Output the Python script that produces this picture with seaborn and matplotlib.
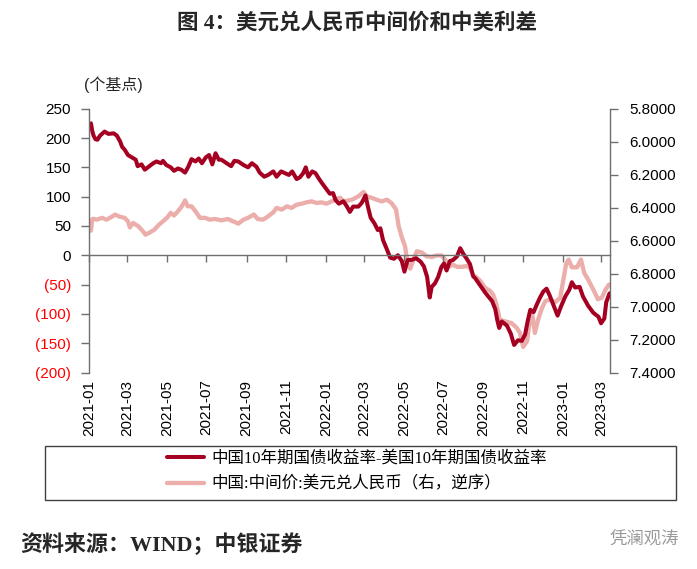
import matplotlib
matplotlib.use('Agg')
import matplotlib.pyplot as plt
import seaborn as sns
import pandas as pd
from matplotlib.patches import Rectangle

# ---------------- data ----------------
spread_dates = [
    "2021-01-04", "2021-01-06", "2021-01-08", "2021-01-11", "2021-01-14", "2021-01-18",
    "2021-01-25", "2021-01-31", "2021-02-08", "2021-02-13", "2021-02-18", "2021-02-21",
    "2021-02-25", "2021-03-02", "2021-03-08", "2021-03-14", "2021-03-17", "2021-03-23",
    "2021-03-28", "2021-04-03", "2021-04-10", "2021-04-15", "2021-04-22", "2021-04-25",
    "2021-04-30", "2021-05-07", "2021-05-12", "2021-05-18", "2021-05-23", "2021-05-29",
    "2021-06-03", "2021-06-08", "2021-06-14", "2021-06-19", "2021-06-24", "2021-06-30",
    "2021-07-05", "2021-07-10", "2021-07-15", "2021-07-20", "2021-07-24", "2021-08-01",
    "2021-08-08", "2021-08-13", "2021-08-19", "2021-08-27", "2021-09-03", "2021-09-09",
    "2021-09-16", "2021-09-21", "2021-09-28", "2021-10-04", "2021-10-12", "2021-10-17",
    "2021-10-24", "2021-10-30", "2021-11-05", "2021-11-10", "2021-11-17", "2021-11-22",
    "2021-11-27", "2021-12-01", "2021-12-05", "2021-12-11", "2021-12-16", "2021-12-21",
    "2021-12-26", "2022-01-01", "2022-01-07", "2022-01-12", "2022-01-16", "2022-01-21",
    "2022-01-28", "2022-02-02", "2022-02-07", "2022-02-12", "2022-02-20", "2022-02-25",
    "2022-03-03", "2022-03-07", "2022-03-11", "2022-03-17", "2022-03-22", "2022-03-26",
    "2022-03-30", "2022-04-05", "2022-04-10", "2022-04-16", "2022-04-22", "2022-04-28",
    "2022-05-02", "2022-05-07", "2022-05-13", "2022-05-20", "2022-05-27", "2022-06-01",
    "2022-06-06", "2022-06-10", "2022-06-13", "2022-06-18", "2022-06-23", "2022-06-28",
    "2022-07-02", "2022-07-06", "2022-07-11", "2022-07-16", "2022-07-22", "2022-07-27",
    "2022-08-01", "2022-08-06", "2022-08-11", "2022-08-16", "2022-08-19", "2022-08-24",
    "2022-08-29", "2022-09-03", "2022-09-08", "2022-09-14", "2022-09-19", "2022-09-22",
    "2022-09-25", "2022-09-29", "2022-10-07", "2022-10-13", "2022-10-18", "2022-10-24",
    "2022-10-30", "2022-11-04", "2022-11-08", "2022-11-12", "2022-11-17", "2022-11-22",
    "2022-11-27", "2022-12-02", "2022-12-07", "2022-12-12", "2022-12-18", "2022-12-24",
    "2022-12-29", "2023-01-05", "2023-01-11", "2023-01-15", "2023-01-20", "2023-01-27",
    "2023-02-01", "2023-02-09", "2023-02-17", "2023-02-25", "2023-03-01", "2023-03-06",
    "2023-03-09", "2023-03-14",
]
spread_values = [
    225, 212, 204, 198, 197, 204,
    211, 207, 208, 204, 194, 185,
    180, 171, 167, 163, 152, 155,
    146, 151, 157, 160, 157, 161,
    154, 150, 144, 148, 146, 141,
    151, 164, 160, 165, 157, 167,
    171, 155, 174, 163, 163, 157,
    152, 161, 160, 154, 150, 157,
    151, 141, 134, 137, 143, 134,
    143, 140, 137, 143, 130, 133,
    140, 150, 134, 143, 140, 131,
    123, 114, 105, 106, 94, 88,
    92, 84, 74, 83, 83, 89,
    102, 82, 64, 54, 43, 46,
    26, 10, -4, -6, 0, -10,
    -28, -8, -8, -5, -11, -19,
    -37, -72, -54, -48, -37, -20,
    -14, -26, -10, -8, -2, 12,
    2, -6, -15, -36, -39, -47,
    -55, -63, -70, -78, -92, -110,
    -124, -113, -120, -134, -153, -145,
    -146, -135, -112, -93, -97, -84,
    -72, -62, -57, -69, -86, -103,
    -88, -70, -59, -46, -55, -54,
    -70, -86, -98, -105, -116, -108,
    -80, -65,
]

cny_dates = [
    "2021-01-04", "2021-01-06", "2021-01-08", "2021-01-13", "2021-01-21", "2021-01-28",
    "2021-02-05", "2021-02-10", "2021-02-18", "2021-02-25", "2021-03-02", "2021-03-05",
    "2021-03-10", "2021-03-18", "2021-03-24", "2021-03-29", "2021-04-05", "2021-04-12",
    "2021-04-19", "2021-04-25", "2021-05-01", "2021-05-07", "2021-05-12", "2021-05-18",
    "2021-05-24", "2021-05-29", "2021-06-02", "2021-06-08", "2021-06-14", "2021-06-21",
    "2021-06-29", "2021-07-06", "2021-07-14", "2021-07-24", "2021-08-03", "2021-08-11",
    "2021-08-19", "2021-08-27", "2021-09-03", "2021-09-12", "2021-09-18", "2021-09-26",
    "2021-10-04", "2021-10-12", "2021-10-17", "2021-10-25", "2021-11-02", "2021-11-09",
    "2021-11-17", "2021-11-25", "2021-12-02", "2021-12-10", "2021-12-18", "2021-12-25",
    "2022-01-02", "2022-01-10", "2022-01-18", "2022-01-23", "2022-01-28", "2022-02-05",
    "2022-02-10", "2022-02-20", "2022-02-28", "2022-03-05", "2022-03-13", "2022-03-20",
    "2022-03-28", "2022-04-05", "2022-04-12", "2022-04-19", "2022-04-23", "2022-04-28",
    "2022-05-03", "2022-05-07", "2022-05-11", "2022-05-16", "2022-05-21", "2022-05-29",
    "2022-06-05", "2022-06-13", "2022-06-21", "2022-06-28", "2022-07-04", "2022-07-10",
    "2022-07-15", "2022-07-22", "2022-07-30", "2022-08-06", "2022-08-11", "2022-08-16",
    "2022-08-20", "2022-08-27", "2022-09-03", "2022-09-11", "2022-09-16", "2022-09-21",
    "2022-09-26", "2022-10-04", "2022-10-14", "2022-10-22", "2022-10-27", "2022-11-01",
    "2022-11-07", "2022-11-10", "2022-11-15", "2022-11-19", "2022-11-24", "2022-11-30",
    "2022-12-05", "2022-12-12", "2022-12-20", "2022-12-28", "2023-01-02", "2023-01-06",
    "2023-01-10", "2023-01-15", "2023-01-23", "2023-01-29", "2023-02-03", "2023-02-09",
    "2023-02-17", "2023-02-24", "2023-03-02", "2023-03-08", "2023-03-13",
]
cny_values = [
    6.540, 6.470, 6.468, 6.473, 6.462, 6.473,
    6.456, 6.442, 6.456, 6.462, 6.483, 6.520,
    6.493, 6.513, 6.538, 6.564, 6.550, 6.533,
    6.503, 6.483, 6.462, 6.432, 6.448, 6.422,
    6.392, 6.356, 6.392, 6.392, 6.422, 6.462,
    6.462, 6.473, 6.469, 6.477, 6.469, 6.483,
    6.497, 6.473, 6.462, 6.442, 6.469, 6.473,
    6.453, 6.428, 6.402, 6.412, 6.392, 6.402,
    6.382, 6.376, 6.368, 6.362, 6.372, 6.368,
    6.376, 6.362, 6.347, 6.340, 6.362, 6.356,
    6.352, 6.332, 6.305, 6.332, 6.341, 6.352,
    6.362, 6.352, 6.372, 6.410, 6.510, 6.580,
    6.635, 6.745, 6.770, 6.715, 6.665, 6.672,
    6.695, 6.700, 6.690, 6.690, 6.715, 6.759,
    6.745, 6.759, 6.759, 6.754, 6.766, 6.810,
    6.820, 6.845, 6.885, 6.905, 6.930, 6.990,
    7.080, 7.090, 7.100, 7.129, 7.160, 7.245,
    7.210, 7.120, 7.050, 7.160, 7.080, 7.008,
    6.968, 6.958, 6.975, 6.947, 6.836, 6.745,
    6.715, 6.762, 6.762, 6.715, 6.796, 6.836,
    6.897, 6.955, 6.947, 6.897, 6.867,
]

left_ticks = [-200, -150, -100, -50, 0, 50, 100, 150, 200, 250]
left_tick_labels = ["(200)", "(150)", "(100)", "(50)", "0", "50", "100", "150", "200", "250"]
right_ticks = [5.8, 6.0, 6.2, 6.4, 6.6, 6.8, 7.0, 7.2, 7.4]
right_tick_labels = ["5.8000", "6.0000", "6.2000", "6.4000", "6.6000", "6.8000",
                     "7.0000", "7.2000", "7.4000"]
x_ticks = ["2021-01-01", "2021-03-01", "2021-05-01", "2021-07-01", "2021-09-01",
           "2021-11-01", "2022-01-01", "2022-03-01", "2022-05-01", "2022-07-01",
           "2022-09-01", "2022-11-01", "2023-01-01", "2023-03-01"]
x_tick_labels = ["2021-01", "2021-03", "2021-05", "2021-07", "2021-09", "2021-11",
                 "2022-01", "2022-03", "2022-05", "2022-07", "2022-09", "2022-11",
                 "2023-01", "2023-03"]

title = "图 4：美元兑人民币中间价和中美利差"
unit_label = "(个基点)"
series_labels = ["中国10年期国债收益率-美国10年期国债收益率", "中国:中间价:美元兑人民币（右，逆序）"]
source = "资料来源：WIND；中银证券"
watermark = "凭澜观涛"

# ---------------- style ----------------
sns.set_theme(style="white")
plt.rcParams['font.family'] = ['Liberation Sans', 'Noto Sans CJK SC', 'DejaVu Sans']

dark_red = "#A50021"
pink = "#EBAEAB"
spine_col = "#6f6f6f"
serif_cjk = ['Liberation Serif', 'Noto Sans CJK SC', 'DejaVu Sans']

W, H = 697, 569
fig = plt.figure(figsize=(W / 100, H / 100), dpi=100)
fig.patch.set_facecolor("white")
ax = fig.add_axes([89 / W, 1 - 372.5 / H, (609.5 - 89) / W, (372.5 - 108.7) / H])
ax2 = ax.twinx()

df_s = pd.DataFrame({"date": pd.to_datetime(spread_dates), "v": spread_values})
df_c = pd.DataFrame({"date": pd.to_datetime(cny_dates), "v": cny_values})

sns.lineplot(data=df_c, x="date", y="v", ax=ax2, color=pink, linewidth=3.1)
sns.lineplot(data=df_s, x="date", y="v", ax=ax, color=dark_red, linewidth=2.9)

ax.set_zorder(ax2.get_zorder() + 1)
ax.patch.set_visible(False)

ax.set_xlim(pd.Timestamp("2021-01-01"), pd.Timestamp("2023-03-14"))
ax.set_ylim(-200, 250)
ax2.set_ylim(7.4, 5.8)

ax.set_xlabel("")
ax.set_ylabel("")
ax2.set_ylabel("")

# spines
for s in ["top", "right"]:
    ax.spines[s].set_visible(False)
ax.spines["left"].set_color(spine_col)
ax.spines["left"].set_linewidth(1.0)
ax.spines["bottom"].set_position(("data", 0))
ax.spines["bottom"].set_color(spine_col)
ax.spines["bottom"].set_linewidth(1.0)
for s in ["top", "left", "bottom"]:
    ax2.spines[s].set_visible(False)
ax2.spines["right"].set_color(spine_col)
ax2.spines["right"].set_linewidth(1.0)

# left ticks
ax.set_yticks(left_ticks)
ax.set_yticklabels(left_tick_labels)
ax.tick_params(axis="y", left=True, direction="out", length=6, width=1,
               color=spine_col, pad=7, labelsize=11)
for lab, v in zip(ax.get_yticklabels(), left_ticks):
    lab.set_color("#FF0000" if v < 0 else "black")

# right ticks
ax2.set_yticks(right_ticks)
ax2.set_yticklabels(right_tick_labels)
ax2.tick_params(axis="y", right=True, direction="out", length=6, width=1,
                color=spine_col, pad=8, labelsize=11, labelcolor="black")

# x ticks on zero line, labels below plot
ax.set_xticks(pd.to_datetime(x_ticks))
ax.set_xticklabels(x_tick_labels, rotation=90)
ax.tick_params(axis="x", bottom=True, direction="out", length=5, width=1,
               color=spine_col, pad=84.5, labelsize=11, labelcolor="black")
ax.grid(False)
ax2.grid(False)

# texts
fig.text(357 / W, 1 - 23 / H, title, ha="center", va="center", fontsize=15.5,
         fontweight="bold", family=serif_cjk)
fig.text(84 / W, 1 - 85 / H, unit_label, ha="left", va="center", fontsize=11.5)

# legend
handles = [ax.get_lines()[0], ax2.get_lines()[0]]
leg = fig.legend(handles, series_labels, loc="upper left",
                 bbox_to_anchor=(167 / W, 1 - 450.5 / H), frameon=False,
                 borderpad=0, borderaxespad=0, handlelength=2.25, handletextpad=0.42,
                 labelspacing=0.62, prop={"family": serif_cjk, "size": 11.9})
for t in leg.get_texts():
    t.set_color("black")
box = Rectangle((45 / W, 1 - 500 / H), (676 - 45) / W, 54 / H, transform=fig.transFigure,
                fill=False, edgecolor="#404040", linewidth=1.0)
fig.add_artist(box)

fig.text(20 / W, 1 - 545 / H, source, ha="left", va="center", fontsize=15.8,
         fontweight="bold", family=serif_cjk)
fig.text(610 / W, 1 - 540 / H, watermark, ha="left", va="center", fontsize=12.5,
         color="#9a9a9a", family=['Noto Sans CJK SC', 'DejaVu Sans'])

fig.savefig("out.png", dpi=100)
